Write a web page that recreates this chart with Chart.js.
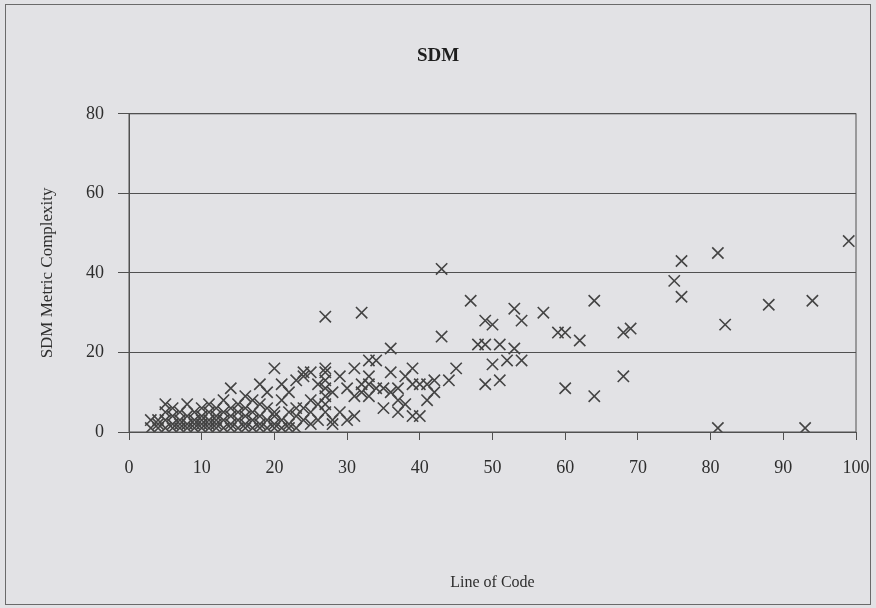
<!DOCTYPE html>
<html>
<head>
<meta charset="utf-8">
<script src="https://cdn.jsdelivr.net/npm/chart.js@4"></script>
<style>
  body { margin: 0; background: #e2e2e5; }
  #wrap { width: 876px; height: 608px; }
</style>
</head>
<body>
<div id="wrap"><canvas id="grafico" width="876" height="608"></canvas></div>
<script>
// Line of Code vs SDM Metric Complexity
const linhasCodigo = [
  3,3, 4,4,4, 5,5,5,5, 6,6,6,6, 7,7,7,7, 8,8,8,8, 9,9,9,9, 10,10,10,10,10,
  11,11,11,11,11, 12,12,12,12,12, 13,13,13,13, 14,14,14,14,14, 15,15,15,15,
  16,16,16,16,16, 17,17,17,17, 18,18,18,18,18, 19,19,19,19, 20,20,20,20,20,
  21,21,21,21, 22,22,22,22, 23,23,23,23, 24,24,24,24, 25,25,25,25, 26,26,26,
  27,27,27,27,27,27,27,27, 28,28,28, 29,29, 30,30, 31,31,31, 32,32,32,
  33,33,33,33, 34,34, 35,35, 36,36,36, 37,37,37, 38,38, 39,39,39, 40,40,
  41,41, 42,42, 43,43, 44, 45,
  47, 48, 49,49,49, 50,50, 51,51, 52, 53,53, 54,54, 57, 59, 60,60, 62,
  64,64, 68,68, 69, 75, 76,76, 81,81, 82, 88, 93, 94, 99
];
const complexidade = [
  1,3, 1,2,3, 1,3,5,7, 1,2,4,6, 1,3,5,2, 1,2,4,7, 1,3,5,2, 1,2,4,6,3,
  1,3,5,7,2, 1,2,4,6,3, 1,3,5,8, 2,4,6,11,1, 1,3,5,7,
  2,4,6,9,1, 1,3,5,8, 2,4,7,12,1, 1,3,6,10, 2,4,5,16,1,
  1,3,8,12, 2,5,10,1, 1,4,6,13, 3,6,14,15, 2,5,8,15, 3,7,12,
  5,7,9,11,13,15,16,29, 3,10,2, 5,14, 3,11, 4,9,16, 10,12,30,
  9,12,14,18, 11,18, 6,11, 15,21,10, 5,8,11, 7,14, 4,12,16, 4,12,
  8,12, 10,13, 24,41, 13, 16,
  33, 22, 22,28,12, 27,17, 22,13, 18, 31,21, 18,28, 30, 25, 25,11, 23,
  33,9, 25,14, 26, 38, 43,34, 45,1, 27, 32, 1, 33, 48
];
const ticksY = [0, 20, 40, 60, 80];
const ticksX = [0, 10, 20, 30, 40, 50, 60, 70, 80, 90, 100];

const pontos = linhasCodigo.map((x, i) => ({ x: x, y: complexidade[i] }));
const fonte = 'Liberation Serif';
const cinza = '#505050';

const moldura = {
  id: 'moldura',
  beforeDraw(chart) {
    const ctx = chart.ctx;
    ctx.save();
    ctx.fillStyle = '#e2e2e5';
    ctx.fillRect(0, 0, chart.width, chart.height);
    ctx.restore();
  },
  afterDraw(chart) {
    const ctx = chart.ctx;
    const a = chart.chartArea;
    ctx.save();
    ctx.strokeStyle = cinza;
    ctx.lineWidth = 1;
    ctx.strokeRect(a.left, a.top, a.right - a.left, a.bottom - a.top);
    ctx.strokeStyle = '#6a6a6a';
    ctx.strokeRect(5.5, 4.5, chart.width - 11, chart.height - 8);
    ctx.restore();
  }
};

new Chart(document.getElementById('grafico'), {
  type: 'scatter',
  data: {
    datasets: [{
      label: 'SDM',
      data: pontos,
      pointStyle: 'crossRot',
      radius: 8,
      borderWidth: 1.6,
      borderColor: '#444444',
      backgroundColor: '#444444'
    }]
  },
  options: {
    responsive: false,
    animation: false,
    layout: { padding: { left: 0, right: 0, top: 0, bottom: 0 } },
    plugins: {
      legend: { display: false },
      tooltip: { enabled: false },
      title: {
        display: true,
        text: 'SDM',
        color: '#1e1e1e',
        font: { family: fonte, size: 19, weight: 'bold' },
        padding: { top: 45, bottom: 46 }
      }
    },
    scales: {
      x: {
        type: 'linear',
        min: 0,
        max: 100,
        afterBuildTicks: s => { s.ticks = ticksX.map(v => ({ value: v })); },
        afterFit: s => { s.height = 176; s.paddingLeft = 0; s.paddingRight = 20; },
        grid: { drawOnChartArea: false, tickLength: 8, color: cinza },
        border: { display: true, color: cinza },
        ticks: { color: '#2e2e2e', padding: 17, maxRotation: 0, font: { family: fonte, size: 18 } },
        title: {
          display: true,
          text: 'Line of Code',
          color: '#2e2e2e',
          font: { family: fonte, size: 16 },
          padding: { top: 0, bottom: 16 }
        }
      },
      y: {
        min: 0,
        max: 80,
        afterBuildTicks: s => { s.ticks = ticksY.map(v => ({ value: v })); },
        afterFit: s => { s.width = 129; },
        grid: { color: cinza, tickLength: 11 },
        border: { display: true, color: cinza },
        ticks: { color: '#2e2e2e', padding: 14, font: { family: fonte, size: 18 } },
        title: {
          display: true,
          text: 'SDM Metric Complexity',
          color: '#2e2e2e',
          font: { family: fonte, size: 17 },
          padding: { top: 37, bottom: 0 }
        }
      }
    }
  },
  plugins: [moldura]
});
</script>
</body>
</html>
